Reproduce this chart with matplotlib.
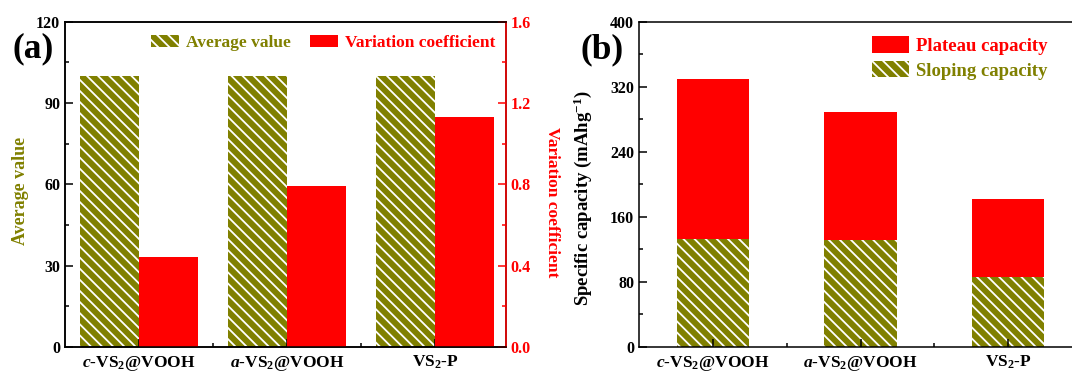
import matplotlib
matplotlib.use("Agg")
import matplotlib.pyplot as plt
import numpy as np
from matplotlib.ticker import MultipleLocator, FixedLocator, FormatStrFormatter

# ---- data ----
categories = [r"$c$-VS$_2$@VOOH", r"$a$-VS$_2$@VOOH", r"VS$_2$-P"]
average_value = [100, 100, 100]
variation_coefficient = [0.44, 0.79, 1.13]
sloping_capacity = [133, 131, 86]
plateau_capacity = [196, 158, 96]

OLIVE = "#808000"
RED = "#ff0000"

plt.rcParams["font.family"] = ["Liberation Serif", "DejaVu Serif"]
plt.rcParams["font.weight"] = "bold"
plt.rcParams["mathtext.fontset"] = "custom"
plt.rcParams["mathtext.rm"] = "Liberation Serif:bold"
plt.rcParams["mathtext.bf"] = "Liberation Serif:bold"
plt.rcParams["mathtext.it"] = "Liberation Serif:italic:bold"
plt.rcParams["hatch.linewidth"] = 1.3
plt.rcParams["axes.linewidth"] = 1.1

HATCH = "\\\\\\"

fig = plt.figure(figsize=(10.72, 3.78), dpi=100)
W, H = 1072.0, 378.0


def box(x0, x1, ytop, ybot):
    return [x0 / W, 1 - ybot / H, (x1 - x0) / W, (ybot - ytop) / H]


def style_ticks(ax, color="black"):
    ax.tick_params(axis="both", which="major", direction="in", length=6,
                   width=1.1, labelsize=11.5, colors=color)
    ax.tick_params(axis="both", which="minor", direction="in", length=3,
                   width=1.1, colors=color)


x = np.arange(len(categories))

# ---------- panel (a) ----------
ax1 = fig.add_axes(box(65, 506, 21.5, 347))
ax1.bar(x - 0.2, average_value, width=0.4, color=OLIVE, edgecolor="white",
        linewidth=0, hatch=HATCH, label="Average value")
ax1.set_xlim(-0.5, 2.48)
ax1.set_ylim(0, 120)
ax1.yaxis.set_major_locator(MultipleLocator(30))
ax1.yaxis.set_minor_locator(MultipleLocator(15))
ax1.xaxis.set_major_locator(FixedLocator(x))
ax1.xaxis.set_minor_locator(FixedLocator([0.5, 1.5]))
ax1.set_xticklabels(categories)
style_ticks(ax1)
ax1.tick_params(axis="x", labelsize=12.5, pad=5)
ax1.set_ylabel("Average value", color=OLIVE, fontsize=13, fontweight="bold")
ax1.yaxis.set_label_coords(-0.102, 0.48)
ax1.yaxis.label.set(va="center", ha="center")

ax1b = ax1.twinx()
ax1b.bar(x + 0.2, variation_coefficient, width=0.4, color=RED, linewidth=0,
         label="Variation coefficient")
ax1b.set_ylim(0, 1.6)
ax1b.yaxis.set_major_locator(MultipleLocator(0.4))
ax1b.yaxis.set_minor_locator(MultipleLocator(0.2))
ax1b.yaxis.set_major_formatter(FormatStrFormatter("%.1f"))
style_ticks(ax1b, RED)
ax1b.tick_params(axis="y", labelcolor=RED, color=RED)
ax1b.spines["right"].set_color(RED)
ax1b.set_ylabel("Variation coefficient", color=RED, fontsize=12.5,
                fontweight="bold", rotation=-90)
ax1b.yaxis.set_label_coords(1.105, 0.445)
ax1b.yaxis.label.set(va="center", ha="center")

h1, l1 = ax1.get_legend_handles_labels()
h2, l2 = ax1b.get_legend_handles_labels()
leg_a = ax1b.legend(h1 + h2, l1 + l2, ncol=2, frameon=False, loc="upper left",
                    bbox_to_anchor=(0.168, 0.995), fontsize=12.5,
                    handlelength=1.6, handleheight=0.65, handletextpad=0.4,
                    columnspacing=1.1, borderpad=0.2)
for txt, c in zip(leg_a.get_texts(), [OLIVE, RED]):
    txt.set_color(c)

fig.text(12 / W, 1 - 49 / H, "(a)", fontsize=25.5, fontweight="bold",
         va="center", ha="left")

# ---------- panel (b) ----------
ax2 = fig.add_axes(box(639, 1082, 21.5, 347))
ax2.bar(x, sloping_capacity, width=0.49, color=OLIVE, edgecolor="white",
        linewidth=0, hatch=HATCH, label="Sloping capacity")
ax2.bar(x, plateau_capacity, width=0.49, bottom=sloping_capacity, color=RED,
        linewidth=0, label="Plateau capacity")
ax2.set_xlim(-0.5, 2.5)
ax2.set_ylim(0, 400)
ax2.yaxis.set_major_locator(MultipleLocator(80))
ax2.yaxis.set_minor_locator(MultipleLocator(40))
ax2.xaxis.set_major_locator(FixedLocator(x))
ax2.xaxis.set_minor_locator(FixedLocator([0.5, 1.5]))
ax2.set_xticklabels(categories)
style_ticks(ax2)
ax2.tick_params(axis="x", labelsize=12.5, pad=5)
ax2.set_ylabel(r"Specific capacity (mAhg$^{-1}$)", fontsize=13.5,
               fontweight="bold")
ax2.yaxis.set_label_coords(-0.126, 0.458)
ax2.yaxis.label.set(va="center", ha="center")

h, l = ax2.get_legend_handles_labels()
leg_b = ax2.legend(h[::-1], l[::-1], frameon=False, loc="upper left",
                   bbox_to_anchor=(0.497, 0.995), fontsize=13.5,
                   handlelength=1.95, handleheight=1.0, handletextpad=0.4,
                   labelspacing=0.3, borderpad=0.2)
for txt, c in zip(leg_b.get_texts(), [RED, OLIVE]):
    txt.set_color(c)

fig.text(581 / W, 1 - 50 / H, "(b)", fontsize=25.5, fontweight="bold",
         va="center", ha="left")

fig.savefig("out.png", dpi=100)
